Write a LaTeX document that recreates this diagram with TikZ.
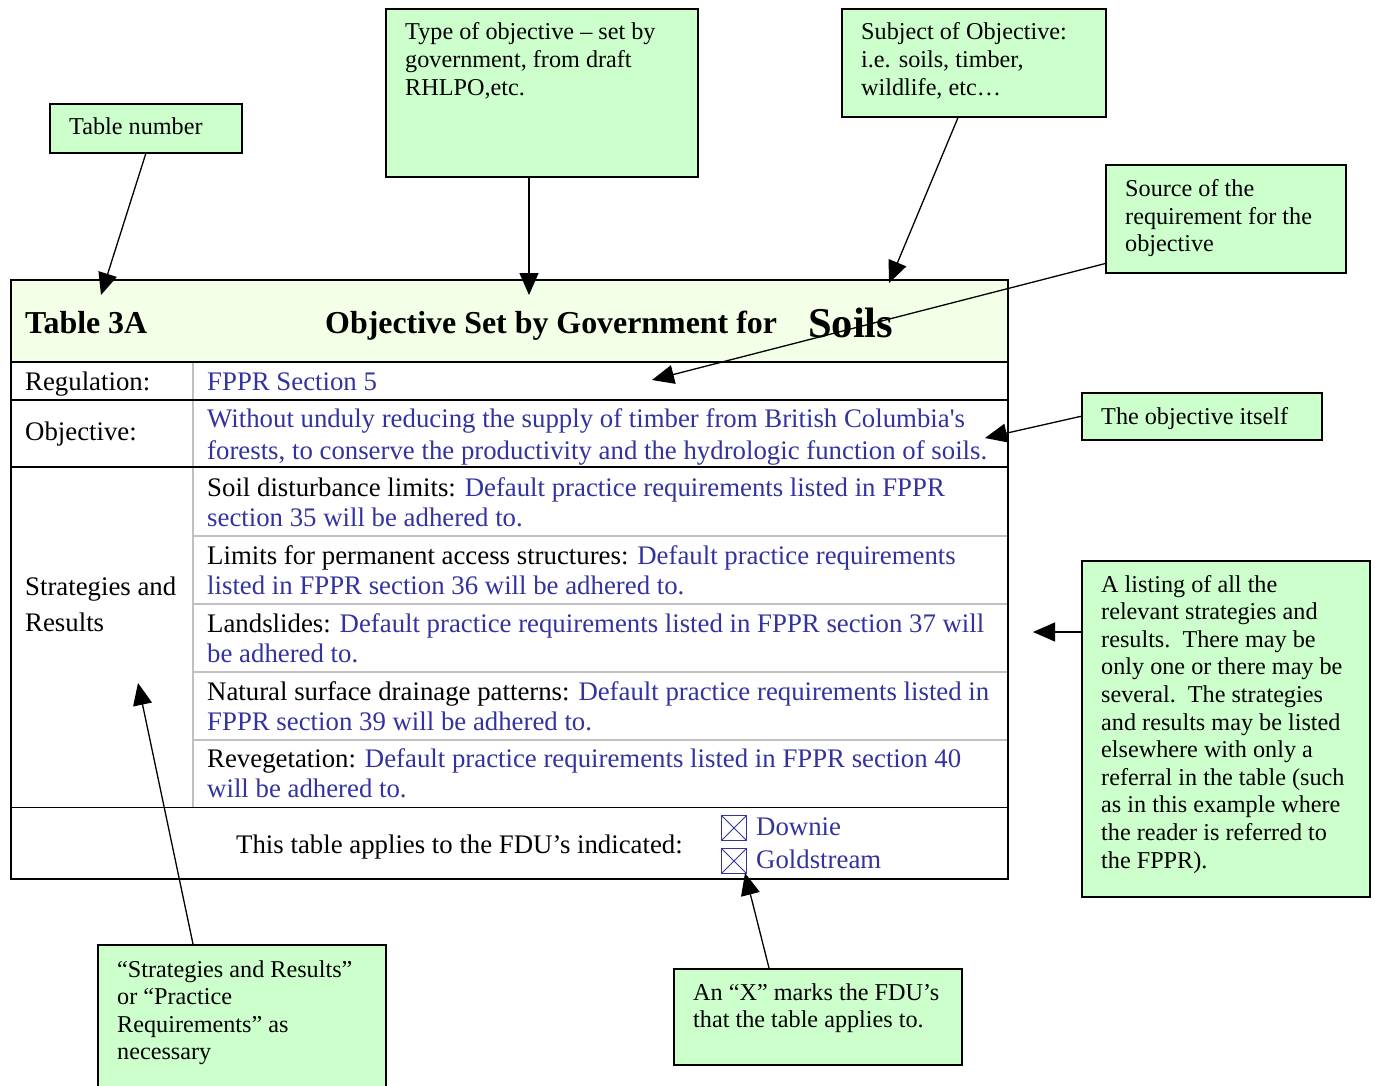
\documentclass[tikz,border=0pt]{standalone}
\usepackage{fontspec}
\setmainfont{Liberation Serif}
\usetikzlibrary{arrows.meta,calc}
\definecolor{callfill}{RGB}{204,255,204}
\definecolor{headfill}{RGB}{243,255,230}
\definecolor{fblue}{RGB}{51,51,160}
\definecolor{rowgray}{RGB}{192,192,192}
\newcommand{\mlines}[1]{\begin{tabular}[t]{@{}l@{}}#1\end{tabular}}
\newcommand{\bl}[1]{\textcolor{fblue}{#1}}
\begin{document}
\begin{tikzpicture}[x=1pt,y=-1pt,
 callbox/.style={draw=black,line width=1.6pt,fill=callfill,inner sep=0pt,anchor=north west},
 calltext/.style={anchor=base west,inner sep=0pt,font=\fontsize{24.2}{27.6}\selectfont},
 tabtext/.style={anchor=base west,inner sep=0pt,font=\fontsize{26.8}{30.8}\selectfont},
 headtext/.style={anchor=base west,inner sep=0pt,font=\fontsize{31.9}{36}\selectfont\bfseries},
 arr/.style={line width=1.3pt,-{Triangle[length=22pt,width=19pt]}},
 tline/.style={line width=1.8pt,black},
 gline/.style={line width=1.6pt,rowgray},
 xbox/.style={draw=fblue,line width=1pt,minimum width=25pt,minimum height=25pt,inner sep=0pt,anchor=north west,
   path picture={\draw[fblue,line width=1pt] (path picture bounding box.north west)--(path picture bounding box.south east)
   (path picture bounding box.south west)--(path picture bounding box.north east);}}]
\useasboundingbox (0,0) rectangle (1375,1086);
\clip (0,0) rectangle (1375,1086);
\fill[white] (0,0) rectangle (1375,1086);

% ---------- table ----------
\fill[headfill] (11,280) rectangle (1008,362);
\draw[gline] (193,362) -- (193,807.5);
\draw[gline] (193,536) -- (1008,536);
\draw[gline] (193,604) -- (1008,604);
\draw[gline] (193,672) -- (1008,672);
\draw[gline] (193,740) -- (1008,740);
\draw[tline] (11,280) rectangle (1008,879);
\draw[tline] (11,362) -- (1008,362);
\draw[tline] (11,400) -- (1008,400);
\draw[tline] (11,467) -- (1008,467);
\draw[tline] (11,807.5) -- (1008,807.5);

\node[headtext] (h1) at (25,333) {Table 3A};
\node[headtext] (h2) at (325,333) {Objective Set by Government for};
\node[headtext,font=\fontsize{42.5}{48}\selectfont\bfseries] (h3) at (808,337) {Soils};

\node[tabtext] (regl) at (25,390) {Regulation:};
\node[tabtext] (regv) at (207,390) {\bl{FPPR Section 5}};
\node[tabtext] (objl) at (25,440) {Objective:};
\node[tabtext,font=\fontsize{26.8}{31.5}\selectfont] (objv) at (207,427.5) {\mlines{\bl{Without unduly reducing the supply of timber from British Columbia\textquotesingle s}\\
\bl{forests, to conserve the productivity and the hydrologic function of soils.}}};
\node[tabtext,font=\fontsize{26.8}{36}\selectfont] (strl) at (25,595) {\mlines{Strategies and\\Results}};
\node[tabtext] (r1) at (207,496) {\mlines{Soil disturbance limits: \bl{Default practice requirements listed in FPPR}\\ \bl{section 35 will be adhered to.}}};
\node[tabtext] (r2) at (207,564) {\mlines{Limits for permanent access structures: \bl{Default practice requirements}\\ \bl{listed in FPPR section 36 will be adhered to.}}};
\node[tabtext] (r3) at (207,632) {\mlines{Landslides: \bl{Default practice requirements listed in FPPR section 37 will}\\ \bl{be adhered to.}}};
\node[tabtext] (r4) at (207,700) {\mlines{Natural surface drainage patterns: \bl{Default practice requirements listed in}\\ \bl{FPPR section 39 will be adhered to.}}};
\node[tabtext] (r5) at (207,767) {\mlines{Revegetation: \bl{Default practice requirements listed in FPPR section 40}\\ \bl{will be adhered to.}}};
\node[tabtext] (appl) at (236,853) {This table applies to the FDU’s indicated:};
\node[xbox] (cbA) at (721,815) {};
\node[xbox] (cbB) at (721,848) {};
\node[tabtext] (fdA) at (756,835) {\bl{Downie}};
\node[tabtext] (fdB) at (756,868) {\bl{Goldstream}};

% ---------- callouts ----------
\node[callbox,minimum width=192pt,minimum height=49pt] (tn) at (49,103) {};
\node[calltext] (tnt) at (69,135) {Table number};
\node[callbox,minimum width=312pt,minimum height=168pt] (type) at (385,8) {};
\node[calltext] (typet) at (405,40) {\mlines{Type of objective – set by\\government, from draft\\RHLPO,etc.}};
\node[callbox,minimum width=264pt,minimum height=108pt] (subj) at (841,8) {};
\node[calltext] (subjt) at (861,40) {\mlines{Subject of Objective:\\i.e. soils, timber,\\wildlife, etc…}};
\node[callbox,minimum width=240pt,minimum height=108pt] (src) at (1105,164) {};
\node[calltext] (srct) at (1125,196.5) {\mlines{Source of the\\requirement for the\\objective}};
\node[callbox,minimum width=240pt,minimum height=47pt] (obj) at (1081,392) {};
\node[calltext] (objt) at (1101,424) {The objective itself};
\node[callbox,minimum width=288pt,minimum height=336pt] (list) at (1081,560) {};
\node[calltext] (listt) at (1101,592) {\mlines{A listing of all the\\relevant strategies and\\results.\ \ There may be\\only one or there may be\\several.\ \ The strategies\\and results may be listed\\elsewhere with only a\\referral in the table (such\\as in this example where\\the reader is referred to\\the FPPR).}};
\node[callbox,minimum width=288pt,minimum height=160pt] (strat) at (97,944) {};
\node[calltext] (stratt) at (117,977) {\mlines{“Strategies and Results”\\or “Practice\\Requirements” as\\necessary}};
\node[callbox,minimum width=288pt,minimum height=96pt] (xcall) at (673,968) {};
\node[calltext] (xcallt) at (693,1000) {\mlines{An “X” marks the FDU’s\\that the table applies to.}};

% ---------- arrows ----------
\coordinate (tnTip) at (101,295);
\coordinate (typeTip) at (529,295);
\coordinate (subjTip) at (889,283);
\coordinate (srcTip) at (652,380);
\coordinate (objTip) at (985,438);
\coordinate (listTip) at (1033,632);
\coordinate (stratTip) at (138,683);
\coordinate (xTip) at (745,873);

\draw[arr] (tn.south) -- (tnTip);
\draw[arr] (type.south -| typeTip) -- (typeTip);
\draw[arr] ($(subj.south west)+(117,0)$) -- (subjTip);
\draw[arr] ($(src.south west)+(0,-10)$) -- (srcTip);
\draw[arr] (obj.west) -- (objTip);
\draw[arr] (list.west |- listTip) -- (listTip);
\draw[arr] ($(strat.north west)+(96,0)$) -- (stratTip);
\draw[arr] ($(xcall.north west)+(96,0)$) -- (xTip);
\end{tikzpicture}
\end{document}
